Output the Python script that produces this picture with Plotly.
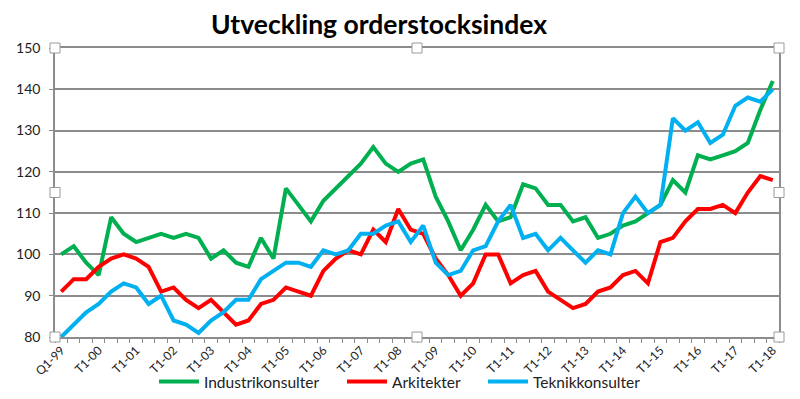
import plotly.graph_objects as go

# Categories (tertials): Q1-99, then T2-99, T3-99, T1-00 ... T1-18
categories = ["Q1-99", "T2-99", "T3-99"]
for yy in range(0, 18):
    for t in (1, 2, 3):
        categories.append(f"T{t}-{yy:02d}")
categories.append("T1-18")

industri = [100, 102, 98, 95, 109, 105, 103, 104, 105, 104,
            105, 104, 99, 101, 98, 97, 104, 99, 116, 112,
            108, 113, 116, 119, 122, 126, 122, 120, 122, 123,
            114, 108, 101, 106, 112, 108, 109, 117, 116, 112,
            112, 108, 109, 104, 105, 107, 108, 110, 112, 118,
            115, 124, 123, 124, 125, 127, 135, 142]

arkitekter = [91, 94, 94, 97, 99, 100, 99, 97, 91, 92,
              89, 87, 89, 86, 83, 84, 88, 89, 92, 91,
              90, 96, 99, 101, 100, 106, 103, 111, 106, 105,
              99, 95, 90, 93, 100, 100, 93, 95, 96, 91,
              89, 87, 88, 91, 92, 95, 96, 93, 103, 104,
              108, 111, 111, 112, 110, 115, 119, 118]

teknik = [80, 83, 86, 88, 91, 93, 92, 88, 90, 84,
          83, 81, 84, 86, 89, 89, 94, 96, 98, 98,
          97, 101, 100, 101, 105, 105, 107, 108, 103, 107,
          98, 95, 96, 101, 102, 108, 112, 104, 105, 101,
          104, 101, 98, 101, 100, 110, 114, 110, 112, 133,
          130, 132, 127, 129, 136, 138, 137, 140]

tick_labels = [c if i % 3 == 0 else "" for i, c in enumerate(categories)]

series = [
    ("Industrikonsulter", industri, "#00B050", "legend"),
    ("Arkitekter", arkitekter, "#FF0000", "legend2"),
    ("Teknikkonsulter", teknik, "#00B0F0", "legend3"),
]

W, H = 792, 391  # page body has an 8px default margin

fig = go.Figure()
for name, vals, col, lg in series:
    fig.add_trace(go.Scatter(x=categories, y=vals, mode="lines", name=name,
                             legend=lg, line=dict(color=col, width=4)))

# Selection handles drawn around the plot area (decorative, paper coordinates)
handles = [(0, 1), (0.5, 1), (1, 1), (0, 0.5), (1, 0.5), (0, 0), (0.5, 0), (1, 0)]
shapes = []
for hx, hy in handles:
    shapes.append(dict(type="rect", xref="paper", yref="paper",
                       x0=hx - 5 / 724, x1=hx + 5 / 724,
                       y0=hy - 5 / 289, y1=hy + 5 / 289,
                       fillcolor="white", line=dict(color="#9a9a9a", width=1),
                       layer="above"))

def leg(xs):
    return dict(orientation="h", x=(xs - 8) / W, xref="container", xanchor="left",
                y=1 - (382 - 8) / H, yref="container", yanchor="middle",
                font=dict(size=15.5, color="#222222"), itemwidth=40,
                bgcolor="rgba(0,0,0,0)")

fig.update_layout(
    width=W, height=H,
    margin=dict(l=47, r=21, t=40, b=62, autoexpand=False),
    paper_bgcolor="white", plot_bgcolor="white",
    font=dict(family="Lato, Arial, sans-serif", color="#222222"),
    title=dict(text="<b>Utveckling orderstocksindex</b>",
               font=dict(size=26.5, color="#000000", family="Lato, Arial, sans-serif"),
               x=0.4475, xref="paper", xanchor="center",
               y=1 - 17 / H, yref="container", yanchor="middle"),
    showlegend=True,
    legend=leg(154), legend2=leg(342), legend3=leg(483),
    shapes=shapes,
)

fig.update_xaxes(
    type="category", automargin=False,
    tickmode="array", tickvals=categories, ticktext=tick_labels,
    tickson="boundaries", ticks="outside", ticklen=4, tickcolor="#8c8c8c",
    tickangle=-45, tickfont=dict(size=12, color="#222222"),
    showline=True, linecolor="#8c8c8c", linewidth=1.5, mirror=True,
    showgrid=False, range=[-0.5, len(categories) - 0.5],
)
fig.update_yaxes(
    range=[80, 150], dtick=10, tick0=80, automargin=False,
    showgrid=True, gridcolor="#8c8c8c", gridwidth=1.5,
    showline=True, linecolor="#8c8c8c", linewidth=1.5, mirror=True,
    ticks="outside", ticklen=4, tickcolor="#8c8c8c",
    tickfont=dict(size=14, color="#222222"), ticklabelstandoff=6,
    zeroline=False,
)

fig.write_html("out.html")
